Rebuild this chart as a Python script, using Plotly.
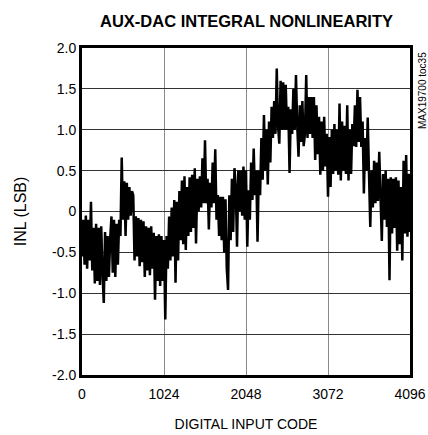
import plotly.graph_objects as go

CODE_STEP = 16
inl_lsb = [
    -0.55, -0.1, -0.65, -0.05, -0.7, -0.1, -0.6, 0.12, -0.72, -0.2, -0.88, -0.15, -0.85, -0.2, -0.9, -0.18,
    -0.75, -1.12, -0.25, -0.85, -0.3, -0.8, -0.33, -0.06, -0.75, -0.1, -0.8, -0.15, -0.65, -0.1, -0.3, 0.66,
    -0.1, 0.37, -0.3, 0.35, -0.1, 0.3, -0.05, 0.25, 0.2, -0.6, -0.06, -0.55, -0.08, -0.67, -0.1, -0.62,
    -0.12, -0.8, -0.18, -0.72, -0.2, -0.78, -0.18, -0.7, -0.26, -1.08, -0.3, -0.85, -0.28, -0.91, -0.3, -0.85,
    -0.35, -1.32, -0.3, -0.7, -0.06, -0.6, 0.05, -0.55, 0.14, -0.87, 0.12, -0.6, 0.25, -0.35, 0.38, -0.4,
    0.43, -0.47, 0.3, -0.3, 0.42, -0.25, 0.45, -0.2, 0.53, -0.39, 0.4, 0.0, 0.43, 0.05, 0.65, 0.1,
    0.87, 0.1, 0.4, -0.22, 0.35, 0.05, 0.6, 0.1, 0.76, -0.1, 0.2, -0.3, 0.18, -0.35, 0.18, -0.5,
    0.15, -0.7, -0.96, 0.2, -0.35, 0.4, -0.25, 0.53, 0.3, -0.43, 0.5, 0.0, 0.5, -0.05, 0.55, -0.1,
    0.5, -0.43, 0.26, -0.1, 0.6, 0.14, 0.77, 0.2, 0.5, -0.37, 0.5, 0.2, 0.9, 0.39, 1.18, 0.5,
    1.0, 0.33, 1.1, 0.6, 1.28, 0.9, 1.35, 0.95, 1.75, 1.05, 0.83, 1.6, 1.0, 1.58, 1.0, 1.55,
    1.0, 1.28, 0.47, 1.25, 0.95, 1.5, 1.0, 1.67, 1.05, 0.67, 1.3, 0.85, 1.35, 0.8, 0.95, 1.67,
    0.9, 1.4, 0.95, 1.4, 0.9, 1.4, 0.63, 1.3, 0.7, 1.16, 0.45, 1.1, 0.5, 1.16, 0.55, 0.95,
    0.18, 0.91, 0.3, 1.0, 0.46, 1.07, 0.5, 1.0, 0.45, 1.32, 0.38, 1.1, 0.5, 1.05, 0.46, 1.3,
    0.38, 1.0, 0.46, 1.07, 0.8, 1.3, 0.79, 1.49, 0.85, 1.4, 0.79, 1.1, 0.22, 0.9, 0.5, 1.15,
    0.46, -0.19, 0.5, 0.05, 0.62, 0.1, 0.6, 0.13, 0.73, 0.1, -0.36, 0.46, -0.1, 0.5, -0.19, 0.4,
    -0.84, 0.42, -0.27, 0.4, -0.2, 0.42, -0.48, 0.38, -0.4, 0.3, -0.6, 0.62, -0.27, 0.69, -0.31, 0.46,
    -0.25,
]
codes = [i * CODE_STEP for i in range(len(inl_lsb))]

x_tick_vals = [0, 1024, 2048, 3072, 4096]
x_tick_text = ["0", "1024", "2048", "3072", "4096"]
y_tick_vals = [2.0, 1.5, 1.0, 0.5, 0.0, -0.5, -1.0, -1.5, -2.0]
y_tick_text = ["2.0", "1.5", "1.0", "0.5", "0", "-0.5", "-1.0", "-1.5", "-2.0"]

FONT = "Liberation Sans, Arial, sans-serif"

fig = go.Figure()
fig.add_trace(go.Scatter(x=codes, y=inl_lsb, mode="lines",
                         line=dict(color="black", width=2.5), showlegend=False,
                         hoverinfo="skip"))

fig.update_layout(
    width=428, height=435,
    margin=dict(l=82, r=18, t=48, b=60),
    paper_bgcolor="white", plot_bgcolor="white",
    font=dict(family=FONT, size=14, color="black"),
    xaxis=dict(range=[0, 4096], tickvals=x_tick_vals, ticktext=x_tick_text,
               showgrid=True, gridcolor="#8a8a8a", gridwidth=1,
               showline=True, linecolor="black", linewidth=3, mirror=True,
               ticks="", zeroline=False, ticklabelstandoff=4, automargin=False,
               title=dict(text="DIGITAL INPUT CODE", standoff=19, font=dict(size=14)),
               tickfont=dict(size=14)),
    yaxis=dict(range=[-2.0, 2.0], tickvals=y_tick_vals, ticktext=y_tick_text,
               showgrid=True, gridcolor="#333333", gridwidth=1,
               showline=True, linecolor="black", linewidth=3, mirror=True,
               ticks="", zeroline=False, ticklabelstandoff=0, automargin=False,
               title=dict(text="INL (LSB)", standoff=22, font=dict(size=16)),
               tickfont=dict(size=14)),
    annotations=[
        dict(text="<b>AUX-DAC INTEGRAL NONLINEARITY</b>", xref="paper", yref="paper",
             x=0.5, y=1.0, xanchor="center", yanchor="middle", yshift=27,
             showarrow=False, font=dict(family=FONT, size=16.5, color="black")),
        dict(text="MAX19700 toc35", xref="paper", yref="paper",
             x=1.0, y=1.0, xanchor="left", yanchor="top", xshift=5, yshift=-2,
             textangle=-90, showarrow=False,
             font=dict(family=FONT, size=10, color="black")),
    ],
)

fig.write_html("out.html", config={"displayModeBar": False},
               post_script="document.body.style.margin='0';")
